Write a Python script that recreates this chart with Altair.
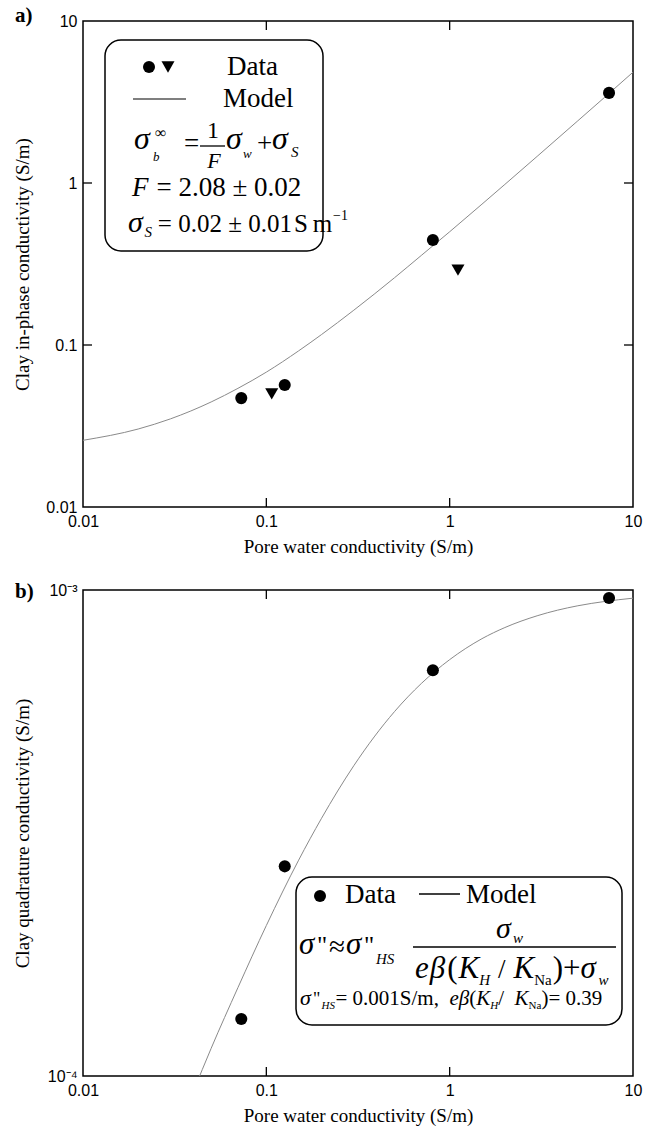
import altair as alt
import pandas as pd

SERIF = "Liberation Serif"
SANS = "Liberation Sans"

# ---------------- data ----------------
x_tick_values = [0.01, 0.1, 1, 10]
ya_tick_values = [0.01, 0.1, 1, 10]
yb_tick_values = [0.0001, 0.001]
inner_tick_values = [0.1, 1]

a_circle_x = [0.073, 0.126, 0.81, 7.4]
a_circle_y = [0.047, 0.0566, 0.445, 3.6]
a_triangle_x = [0.107, 1.11]
a_triangle_y = [0.0499, 0.29]
a_model_x = [0.01, 0.02, 0.03, 0.05, 0.07, 0.1, 0.15, 0.2, 0.3, 0.5, 0.7, 1, 1.5, 2, 3, 5, 7, 10]
a_model_y = [0.0258, 0.0303, 0.035, 0.0445, 0.054, 0.068, 0.092, 0.116, 0.164, 0.26,
             0.357, 0.50, 0.74, 0.98, 1.46, 2.42, 3.38, 4.83]

b_circle_x = [0.073, 0.126, 0.81, 7.4]
b_circle_y = [0.000131, 0.000270, 0.000684, 0.000963]
b_model_x = [0.04, 0.05, 0.07, 0.1, 0.15, 0.2, 0.3, 0.5, 0.7, 1, 1.5, 2, 3, 5, 7, 10]
b_model_y = [9.3e-5, 1.14e-4, 1.52e-4, 2.04e-4, 2.78e-4, 3.39e-4, 4.35e-4, 5.62e-4,
             6.42e-4, 7.19e-4, 7.94e-4, 8.37e-4, 8.85e-4, 9.28e-4, 9.47e-4, 9.62e-4]

PW, PH = 550, 486

# ---------------- helpers ----------------
EM = {' ': 0.25, '.': 0.25, ',': 0.25, '=': 0.564, '+': 0.564, '±': 0.549, '≈': 0.549,
      '(': 0.333, ')': 0.333, '/': 0.278, '"': 0.408, 'S': 0.556, 'm': 0.778, 'N': 0.722,
      'a': 0.444, 'e': 0.444, 'H': 0.722, 'K': 0.667, 'F': 0.611, 'w': 0.667, 'b': 0.5,
      'σ': 0.55, 'β': 0.5, '∞': 0.713, '−': 0.564, '\u2009': 0.15}


def text_width(s, size):
    return sum(EM.get(c, 0.5) for c in s) * size


def text(s, x, y, size, italic=False, bold=False, align="left", baseline="alphabetic", font=SERIF):
    return alt.Chart(pd.DataFrame({"t": [s]})).mark_text(
        align=align, baseline=baseline, fontSize=size, font=font,
        fontStyle="italic" if italic else "normal",
        fontWeight="bold" if bold else "normal", color="black"
    ).encode(x=alt.value(x), y=alt.value(y), text="t:N")


def flow(x, y, parts):
    layers = []
    for s, size, italic, dy, gap in parts:
        x += gap
        layers.append(text(s, x, y + dy, size, italic))
        x += text_width(s, size)
    return layers, x


def dummy():
    return pd.DataFrame({"d": [0]})


def box(x1, x2, y1, y2):
    return alt.Chart(dummy()).mark_rect(
        cornerRadius=16, fill="white", stroke="black", strokeWidth=1.5
    ).encode(x=alt.value(x1), x2=alt.value(x2), y=alt.value(y1), y2=alt.value(y2))


def hrule(x1, x2, y, color="black", width=1.3):
    return alt.Chart(dummy()).mark_rule(color=color, strokeWidth=width).encode(
        x=alt.value(x1), x2=alt.value(x2), y=alt.value(y))


def symbol(x, y, shape, size):
    return alt.Chart(dummy()).mark_point(
        shape=shape, filled=True, size=size, color="black", opacity=1
    ).encode(x=alt.value(x), y=alt.value(y))


xscale = alt.Scale(type="log", domain=[0.01, 10])
xaxis = alt.Axis(values=x_tick_values, format="~g", title="Pore water conductivity (S/m)",
                 labelFlush=False, ticks=False, tickSize=0, domain=False, grid=False,
                 labelPadding=6, titleY=39, titleBaseline="middle")


def xenc(field):
    return alt.X(field, type="quantitative", scale=xscale, axis=xaxis)


ya_scale = alt.Scale(type="log", domain=[0.01, 10])
ya_axis = alt.Axis(values=ya_tick_values, format="~g", title="Clay in-phase conductivity (S/m)",
                   labelFlush=False, ticks=False, tickSize=0, domain=False, grid=False,
                   labelPadding=6, titleX=-61, titleY=PH / 2, titleBaseline="middle",
                   titleAlign="center", titleAngle=270)

yb_scale = alt.Scale(type="log", domain=[0.0001, 0.001])
yb_axis = alt.Axis(values=yb_tick_values,
                   labelExpr="datum.value > 0.0005 ? '10⁻³' : '10⁻⁴'",
                   title="Clay quadrature conductivity (S/m)",
                   labelFlush=False, ticks=False, tickSize=0, domain=False, grid=False,
                   labelPadding=6, titleX=-61, titleY=PH / 2, titleBaseline="middle",
                   titleAlign="center", titleAngle=270)


def yenc_a(field):
    return alt.Y(field, type="quantitative", scale=ya_scale, axis=ya_axis)


def yenc_b(field):
    return alt.Y(field, type="quantitative", scale=yb_scale, axis=yb_axis)


ticks_df = pd.DataFrame({"v": inner_tick_values})


def x_ticks():
    bottom = alt.Chart(ticks_df).mark_rule(color="black", strokeWidth=1.3).encode(
        x=xenc("v"), y=alt.value(PH), y2=alt.value(PH - 9))
    top = alt.Chart(ticks_df).mark_rule(color="black", strokeWidth=1.3).encode(
        x=xenc("v"), y=alt.value(0), y2=alt.value(9))
    return [bottom, top]


def y_ticks(yenc):
    left = alt.Chart(ticks_df).mark_rule(color="black", strokeWidth=1.3).encode(
        y=yenc("v"), x=alt.value(0), x2=alt.value(9))
    right = alt.Chart(ticks_df).mark_rule(color="black", strokeWidth=1.3).encode(
        y=yenc("v"), x=alt.value(PW), x2=alt.value(PW - 9))
    return [left, right]


# ---------------- panel a ----------------
a_model = alt.Chart(pd.DataFrame({"x": a_model_x, "y": a_model_y})).mark_line(
    color="#8a8a8a", strokeWidth=1, clip=True, interpolate="monotone"
).encode(x=xenc("x"), y=yenc_a("y"))

a_circles = alt.Chart(pd.DataFrame({"x": a_circle_x, "y": a_circle_y})).mark_point(
    shape="circle", filled=True, size=145, color="black", opacity=1
).encode(x=xenc("x"), y=yenc_a("y"))

a_triangles = alt.Chart(pd.DataFrame({"x": a_triangle_x, "y": a_triangle_y})).mark_point(
    shape="triangle-down", filled=True, size=170, color="black", opacity=1
).encode(x=xenc("x"), y=yenc_a("y"))

legend_a = [box(22, 240, 19, 230),
            symbol(66, 46, "circle", 145), symbol(85, 46, "triangle-down", 170),
            text("Data", 144, 54, 27),
            hrule(50, 103, 78, color="#555555", width=1.5),
            text("Model", 140, 86, 27),
            # sigma_b^inf = 1/F sigma_w + sigma_S
            text("σ", 51, 128, 32, italic=True),
            text("b", 70, 140, 13, italic=True),
            text("∞", 72, 117, 16),
            text("=", 101, 131, 27),
            text("1", 130, 117, 24, align="center"),
            hrule(117, 142, 125, width=1.3),
            text("F", 131, 147, 22, italic=True, align="center"),
            text("σ", 143, 128, 32, italic=True),
            text("w", 160, 137, 13, italic=True),
            text("+", 174, 131, 27),
            text("σ", 189, 128, 32, italic=True),
            text("S", 208, 136, 15, italic=True)]
row4, _ = flow(49, 175, [("F", 27, True, 0, 0), ("= 2.08 ± 0.02", 27, False, 0, 8)])
row5, endx = flow(45, 211, [("σ", 30, True, 0, 0), ("S", 15, True, 5, 0),
                            ("= 0.02 ± 0.01", 25, False, 0, 5), ("S\u2009m", 25, False, 0, 2)])
row5.append(text("−1", endx + 2, 199, 14))
legend_a += row4 + row5

panel_a = alt.layer(
    a_model, *legend_a, a_circles, a_triangles,
    *x_ticks(), *y_ticks(yenc_a),
    text("a)", -68, 1, 21, bold=True),
).properties(width=PW, height=PH)

# ---------------- panel b ----------------
b_model = alt.Chart(pd.DataFrame({"x": b_model_x, "y": b_model_y})).mark_line(
    color="#8a8a8a", strokeWidth=1, clip=True, interpolate="monotone"
).encode(x=xenc("x"), y=yenc_b("y"))

b_circles = alt.Chart(pd.DataFrame({"x": b_circle_x, "y": b_circle_y})).mark_point(
    shape="circle", filled=True, size=145, color="black", opacity=1
).encode(x=xenc("x"), y=yenc_b("y"))

legend_b = [box(213, 539, 287, 435),
            symbol(237, 306, "circle", 145),
            text("Data", 262, 313, 27),
            hrule(336, 377, 304, width=1.5),
            text("Model", 383, 313, 27),
            text("σ", 216, 364, 31, italic=True),
            text('"', 234, 364, 25),
            text("≈", 246, 366, 29),
            text("σ", 263, 364, 31, italic=True),
            text('"', 281, 364, 25),
            text("HS", 293, 374, 15, italic=True),
            hrule(330, 533, 357, width=1.3),
            text("σ", 413, 348, 30, italic=True),
            text("w", 430, 353, 15, italic=True)]
den, _ = flow(332, 388, [("e", 31, True, 0, 0), ("β", 31, True, 0, 1), ("(", 31, False, 0, 2),
                         ("K", 31, True, 0, 1), ("H", 15, True, 7, 0), ("/", 27, False, 0, 8),
                         ("K", 31, True, 0, 8), ("Na", 15, False, 7, 0), (")", 31, False, 0, 1),
                         ("+", 31, False, 0, 0), ("σ", 31, True, 0, 0), ("w", 15, True, 7, 1)])
row3, _ = flow(217, 415, [("σ", 22, True, 0, 0), ('"', 18, False, 0, 1), ("HS", 11, True, 4, 1),
                          (" = 0.001S/m, ", 21, False, 0, 0), ("e", 21, True, 0, 0),
                          ("β", 21, True, 0, 0), ("(", 21, False, 0, 0), ("K", 21, True, 0, 0),
                          ("H", 11, True, 4, 0), (" / ", 21, False, 0, 0), ("K", 21, True, 0, 0),
                          ("Na", 11, False, 4, 0), (")", 21, False, 0, 0),
                          (" = 0.39", 21, False, 0, 0)])
legend_b += den + row3

panel_b = alt.layer(
    b_model, *legend_b, b_circles,
    *x_ticks(),
    text("b)", -68, 8, 21, bold=True),
).properties(width=PW, height=PH)

chart = alt.vconcat(panel_a, panel_b, spacing=23).configure_view(
    stroke="black", strokeWidth=1.5
).configure_axis(
    labelFont=SANS, labelFontSize=16, labelColor="black",
    titleFont=SERIF, titleFontSize=19, titleFontWeight="normal", titleColor="black"
).properties(
    padding={"left": 12, "top": 4, "right": 5, "bottom": 0}, background="white"
)

chart.save("out.html", embed_options={"renderer": "svg", "actions": False})
